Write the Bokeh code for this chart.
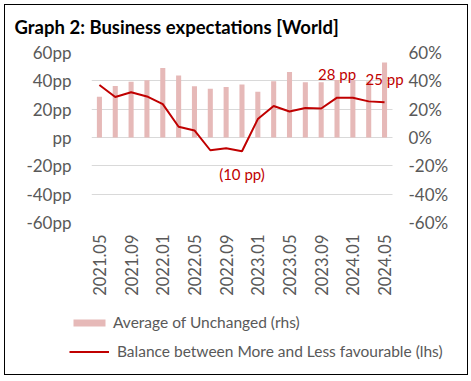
import math
from bokeh.plotting import figure
from bokeh.layouts import column
from bokeh.models import (Range1d, LinearAxis, FixedTicker, Legend, LegendItem, Label)
from bokeh.core.properties import value
from bokeh.embed import file_html
from bokeh.resources import INLINE

# ---- data ----
periods = ["2021.05", "2021.07", "2021.09", "2021.11", "2022.01", "2022.03", "2022.05",
           "2022.07", "2022.09", "2022.11", "2023.01", "2023.03", "2023.05", "2023.07",
           "2023.09", "2023.11", "2024.01", "2024.03", "2024.05"]
unchanged = [28.8, 36.4, 39.4, 40.4, 49.1, 43.7, 36.1, 34.5, 35.7, 37.5, 32.3, 39.7,
             46.3, 39.0, 39.0, 40.6, 40.6, 39.5, 52.9]
balance = [37.1, 28.6, 31.9, 29.0, 23.6, 7.6, 5.0, -9.0, -7.6, -9.7, 13.0, 22.2,
           18.4, 20.8, 20.5, 28.1, 28.1, 25.5, 24.8]
y_ticks = [-60, -40, -20, 0, 20, 40, 60]
left_tick_labels = ["-60pp", "-40pp", "-20pp", "pp", "20pp", "40pp", "60pp"]
right_tick_labels = ["-60%", "-40%", "-20%", "0%", "20%", "40%", "60%"]
shown_periods = periods[::2]
ann_periods = ["2022.11", "2023.11", "2024.05"]
ann_texts = ["(10 pp)", "28 pp", "25 pp"]
title_text = "Graph 2: Business expectations [World]"
legend_labels = ["Average of Unchanged (rhs)", " Balance between More and Less favourable (lhs)"]

W = 462
H_TOP, H_MAIN, H_LEG = 35, 260, 74
FONT = "Lato"
GREY = "#595959"
RED = "#c00000"
PINK = "#e6b9b8"

xpos = list(range(len(periods)))
n = len(periods)


def no_align(fig):
    if "frame_align" in fig.properties():
        fig.frame_align = False


def blank_panel(height, yr=(0, 1)):
    f = figure(width=W, height=height, x_range=Range1d(0, W), y_range=Range1d(*yr),
               x_axis_type=None, y_axis_type=None, output_backend="svg",
               toolbar_location=None, min_border=0)
    f.min_border_left = f.min_border_right = f.min_border_top = f.min_border_bottom = 0
    f.outline_line_color = None
    f.background_fill_color = "white"
    f.border_fill_color = "white"
    f.xgrid.visible = False
    f.ygrid.visible = False
    no_align(f)
    return f


# ---- title panel ----
p0 = blank_panel(H_TOP, (0, H_TOP))
p0.add_layout(Label(x=9, y=H_TOP - 21, text=title_text, text_font=FONT,
                    text_font_style="bold", text_font_size="18.5px",
                    text_color="black", text_baseline="alphabetic"))

# ---- main chart ----
p = figure(width=W, height=H_MAIN, x_range=Range1d(-0.5, n - 0.5 + 0.76),
           y_range=Range1d(-60, 60), output_backend="svg", toolbar_location=None,
           min_border_left=86, min_border_right=63, min_border_top=12,
           min_border_bottom=78)
no_align(p)
p.outline_line_color = None
p.background_fill_color = "white"
p.border_fill_color = "white"
p.extra_y_ranges = {"rhs": Range1d(-60, 60)}

p.xgrid.grid_line_color = None
p.ygrid.ticker = FixedTicker(ticks=y_ticks)
p.ygrid.grid_line_color = "#d9d9d9"
p.ygrid.grid_line_width = 1
p.ygrid.cross_bounds = (-0.5, n - 0.5)

xa = p.xaxis[0]
xa.ticker = FixedTicker(ticks=[xpos[periods.index(s)] for s in shown_periods])
xa.major_label_overrides = {xpos[periods.index(s)]: s for s in shown_periods}
xa.major_label_orientation = math.pi / 2
xa.axis_line_color = None
xa.major_tick_line_color = None
xa.major_tick_out = 0
xa.major_tick_in = 0
xa.minor_tick_line_color = None
xa.major_label_standoff = 12
xa.major_label_text_font = FONT
xa.major_label_text_font_size = "16.5px"
xa.major_label_text_color = GREY

ya = p.yaxis[0]
ya.ticker = FixedTicker(ticks=y_ticks)
ya.major_label_overrides = {t: l for t, l in zip(y_ticks, left_tick_labels)}
ya.axis_line_color = None
ya.major_tick_line_color = None
ya.major_tick_out = 0
ya.major_tick_in = 0
ya.minor_tick_line_color = None
ya.major_label_standoff = 20
ya.major_label_text_font = FONT
ya.major_label_text_font_size = "17px"
ya.major_label_text_color = GREY

ra = LinearAxis(y_range_name="rhs", ticker=FixedTicker(ticks=y_ticks))
ra.major_label_overrides = {t: l for t, l in zip(y_ticks, right_tick_labels)}
ra.axis_line_color = None
ra.major_tick_line_color = None
ra.major_tick_out = 0
ra.major_tick_in = 0
ra.minor_tick_line_color = None
ra.major_label_standoff = 4
ra.major_label_text_font = FONT
ra.major_label_text_font_size = "17px"
ra.major_label_text_color = GREY
p.add_layout(ra, "right")

bars = p.vbar(x=xpos, top=unchanged, bottom=0, width=0.32, fill_color=PINK,
              line_color=None, y_range_name="rhs")
line = p.line(x=xpos, y=balance, line_color=RED, line_width=2)

ann_x = [xpos[periods.index(a)] for a in ann_periods]
ann_values = [balance[periods.index(a)] for a in ann_periods]
p.text(x=ann_x, y=ann_values, text=ann_texts, y_offset=[23, -24, -23],
       text_align="center", text_baseline="middle", text_font=value(FONT),
       text_font_size="15px", text_color=RED)

# ---- legend panel ----
p2 = blank_panel(H_LEG)
lb = p2.vbar(x=xpos, top=unchanged, width=0.32, fill_color=PINK, line_color=None,
             visible=False)
ll = p2.line(x=xpos, y=balance, line_color=RED, line_width=2, visible=False)
legend = Legend(items=[LegendItem(label=legend_labels[0], renderers=[lb]),
                       LegendItem(label=legend_labels[1], renderers=[ll])],
                location=(64, 13), orientation="vertical", glyph_width=40,
                glyph_height=9, label_height=20, spacing=9, padding=0, margin=0,
                border_line_color=None, background_fill_alpha=0, label_standoff=4,
                inactive_fill_alpha=0, click_policy="none",
                label_text_font=FONT, label_text_font_size="15.5px",
                label_text_color=GREY)
p2.add_layout(legend, "center")

lay = column(p0, p, p2, spacing=0,
             styles={"border": "1.5px solid #000", "margin": "4px"})

open("out.html", "w").write(file_html(lay, INLINE))
